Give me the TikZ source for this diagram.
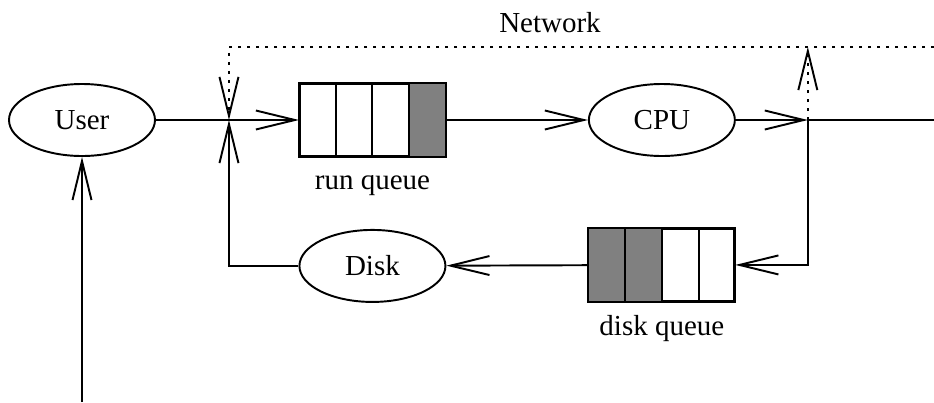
\documentclass[tikz,border=0pt]{standalone}
\usepackage{fontspec}
\setmainfont{Liberation Serif}
\usetikzlibrary{arrows.meta,positioning,calc,shapes.geometric}

\begin{document}
\begin{tikzpicture}[
    >={Straight Barb[length=0.78cm,width=0.38cm]},
    line width=1.1pt,
    font=\fontsize{16.5}{20}\selectfont,
    proc/.style={draw, ellipse, minimum width=2.92cm, minimum height=1.44cm, inner sep=0pt},
    queue/.style={draw, rectangle, minimum width=2.9cm, minimum height=1.44cm, inner sep=0pt},
    net/.style={dash pattern=on 0.06cm off 0.12cm},
    qlabel/.style={anchor=base},
]
\useasboundingbox (0,0) rectangle (18.68,8.04);
\coordinate (edge) at (18.68,0);

% Top row
\node[proc] (user) at (1.64,5.64) {User};
\coordinate[right=1.46cm of user] (split);
\node[queue, right=1.4cm of split] (runq) {};
\node[proc, right=2.84cm of runq] (cpu) {CPU};
\coordinate[right=1.44cm of cpu] (join);

% Bottom row
\node[queue, below=1.42cm of cpu] (diskq) {};
\node[proc, below=1.44cm of runq] (disk) {Disk};

% Queue cells
\fill[gray] ($(runq.south west)!0.75!(runq.south east)$) rectangle (runq.north east);
\fill[gray] (diskq.south west) rectangle ($(diskq.north west)!0.5!(diskq.north east)$);
\foreach \q in {runq,diskq} {
  \draw (\q.south west) rectangle (\q.north east);
  \foreach \i in {1,2,3}
    \draw ($(\q.south west)!\i/4!(\q.south east)$) -- ($(\q.north west)!\i/4!(\q.north east)$);
}

% Queue labels
\node[below=0.66cm of runq.south, qlabel] (runlbl) {run queue};
\node[below=0.68cm of diskq.south, qlabel] (disklbl) {disk queue};

% Network
\coordinate[above=1.46cm of split] (netL);
\coordinate (netR) at (edge |- netL);
\node[qlabel] (netlbl) at ($(netL -| 11.0,0)+(0,0.3)$) {Network};

% Edges
\draw (user) -- (split);
\draw[->] (split) -- (runq);
\draw[->] (runq) -- (cpu);
\draw[->] (cpu) -- (join);
\draw (join) -- (join -| edge);
\draw[->] (join) |- (diskq);
\draw[->] (diskq) -- (disk);
\draw[->] (disk) -| (split);
\draw[->] (user.south |- edge) -- (user);
\draw[net,->] (netR) -| (split);
\draw[net,->] (join) -- (join |- netL);

\end{tikzpicture}
\end{document}
